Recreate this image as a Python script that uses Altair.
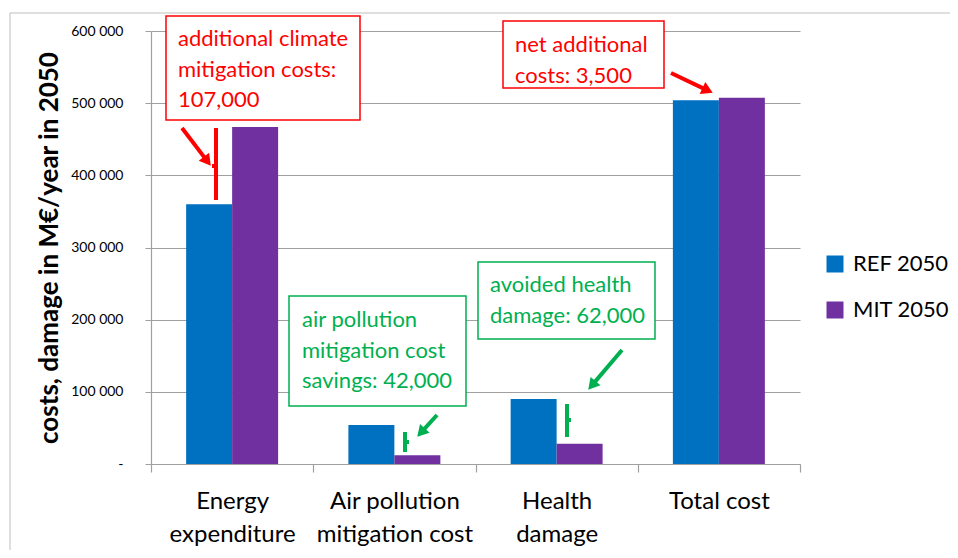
import math
import altair as alt
import pandas as pd

# ---------------- data ----------------
categories = ["Energy expenditure", "Air pollution mitigation cost", "Health damage", "Total cost"]
series_names = ["REF 2050", "MIT 2050"]
ref_values = [360000, 54000, 90000, 504000]
mit_values = [467000, 12000, 28000, 507500]
y_ticks = [0, 100000, 200000, 300000, 400000, 500000, 600000]

bar_colors = ["#0070c0", "#7030a0"]
RED = "#ff0000"
GREEN = "#00b050"
FONT = "Lato"

df = pd.DataFrame({
    "category": categories * 2,
    "series": [s for s in series_names for _ in categories],
    "value": ref_values + mit_values,
})

# ---------------- annotation layout (pixels inside the plot area) ----------------
notes = pd.DataFrame([
    dict(text="additional climate\nmitigation costs:\n107,000", color=RED, bx0=15, by0=-15, bx1=209, by1=89, tx=27, ty=15),
    dict(text="net additional\ncosts: 3,500", color=RED, bx0=352, by0=-10, bx1=513, by1=57, tx=364, ty=21),
    dict(text="air pollution\nmitigation cost\nsavings: 42,000", color=GREEN, bx0=138, by0=265, bx1=315, by1=375, tx=151, ty=296),
    dict(text="avoided health\ndamage: 62,000", color=GREEN, bx0=327, by0=231, bx1=504, by1=308, tx=339, ty=261),
])

brackets = pd.DataFrame([
    dict(x0=65, y0=97, x1=65, y1=169, color=RED),
    dict(x0=61, y0=135, x1=65, y1=135, color=RED),
    dict(x0=254, y0=401, x1=254, y1=421, color=GREEN),
    dict(x0=254, y0=411, x1=258, y1=411, color=GREEN),
    dict(x0=416, y0=373, x1=416, y1=406, color=GREEN),
    dict(x0=416, y0=389, x1=420, y1=389, color=GREEN),
])

arrow_specs = [
    (31, 97, 60, 135, RED),
    (520, 42, 562, 62, RED),
    (286, 384, 266, 406, GREEN),
    (471, 319, 437, 359, GREEN),
]
shafts, heads = [], []
for x0, y0, x1, y1, c in arrow_specs:
    L = math.hypot(x1 - x0, y1 - y0)
    ux, uy = (x1 - x0) / L, (y1 - y0) / L
    shafts.append(dict(x0=x0, y0=y0, x1=x1 - ux * 9, y1=y1 - uy * 9, color=c))
    heads.append(dict(x=x1 - ux * 6, y=y1 - uy * 6, angle=math.degrees(math.atan2(uy, ux)) % 360, color=c))
shafts = pd.DataFrame(shafts)
heads = pd.DataFrame(heads)

# ---------------- chart ----------------
frame = alt.Chart(pd.DataFrame({"a": [0]})).mark_rect(
    fillOpacity=0, stroke="#bfbfbf", strokeWidth=1
).encode(x=alt.value(-141), x2=alt.value(1000), y=alt.value(-18), y2=alt.value(700))

label_expr = (
    "datum.label == 'Energy expenditure' ? ['Energy', 'expenditure'] : "
    "datum.label == 'Air pollution mitigation cost' ? ['Air pollution', 'mitigation cost'] : "
    "datum.label == 'Health damage' ? ['Health', 'damage'] : datum.label"
)

bars = alt.Chart(df).mark_bar().encode(
    x=alt.X(
        "category:N", sort=categories, title=None,
        scale=alt.Scale(paddingInner=0, paddingOuter=0),
        axis=alt.Axis(
            labelExpr=label_expr, labelAngle=0, labelFont=FONT, labelFontSize=24,
            labelColor="#000000", labelLineHeight=33, labelPadding=17, labelBaseline="top",
            tickBand="extent", tickSize=8, tickColor="#a0a0a0", tickWidth=1.2,
            domainColor="#a0a0a0", domainWidth=1.2, grid=False,
        ),
    ),
    xOffset=alt.XOffset("series:N", sort=series_names,
                        scale=alt.Scale(paddingInner=0, paddingOuter=0.764)),
    y=alt.Y(
        "value:Q", scale=alt.Scale(domain=[0, 600000], nice=False),
        axis=alt.Axis(
            values=y_ticks,
            labelExpr="datum.value == 0 ? '-' : format(datum.value / 1000, 'd') + ' 000'",
            labelFont=FONT, labelFontSize=14, labelColor="#000000", labelPadding=22,
            tickSize=6, tickColor="#a0a0a0", domainColor="#a0a0a0", domainWidth=1.2,
            grid=True, gridColor="#a0a0a0", gridWidth=1.2,
            title="costs, damage in M€/year in 2050", titleFont=FONT, titleFontSize=26,
            titleFontWeight="bold", titleColor="#000000", titlePadding=8,
        ),
    ),
    color=alt.Color(
        "series:N", sort=series_names,
        scale=alt.Scale(domain=series_names, range=bar_colors),
        legend=alt.Legend(
            title=None, orient="none", legendX=673, legendY=222,
            symbolType="square", symbolSize=289, symbolStrokeWidth=0,
            labelFont=FONT, labelFontSize=22, labelColor="#000000",
            labelOffset=7, rowPadding=24,
        ),
    ),
)

boxes = alt.Chart(notes).mark_rect(fill="white", strokeWidth=1.5).encode(
    x=alt.X("bx0:Q", scale=None, axis=None), x2="bx1:Q",
    y=alt.Y("by0:Q", scale=None, axis=None), y2="by1:Q",
    stroke=alt.Stroke("color:N", scale=None),
)

texts = alt.Chart(notes).mark_text(
    align="left", baseline="alphabetic", lineBreak="\n", lineHeight=30.5,
    font=FONT, fontSize=22,
).encode(
    x=alt.X("tx:Q", scale=None, axis=None),
    y=alt.Y("ty:Q", scale=None, axis=None),
    text="text:N",
    color=alt.Color("color:N", scale=None),
)

bracket_layer = alt.Chart(brackets).mark_rule(strokeWidth=4, strokeCap="butt").encode(
    x=alt.X("x0:Q", scale=None, axis=None), x2="x1:Q",
    y=alt.Y("y0:Q", scale=None, axis=None), y2="y1:Q",
    color=alt.Color("color:N", scale=None),
)

shaft_layer = alt.Chart(shafts).mark_rule(strokeWidth=4).encode(
    x=alt.X("x0:Q", scale=None, axis=None), x2="x1:Q",
    y=alt.Y("y0:Q", scale=None, axis=None), y2="y1:Q",
    color=alt.Color("color:N", scale=None),
)

head_layer = alt.Chart(heads).mark_point(shape="triangle-right", filled=True, size=170, opacity=1).encode(
    x=alt.X("x:Q", scale=None, axis=None),
    y=alt.Y("y:Q", scale=None, axis=None),
    angle=alt.Angle("angle:Q", scale=None),
    color=alt.Color("color:N", scale=None),
)

chart = alt.layer(
    frame, bars, boxes, texts, bracket_layer, shaft_layer, head_layer
).properties(
    width=649, height=433,
    padding={"left": 143, "top": 23, "right": 150, "bottom": 86},
    autosize=alt.AutoSizeParams(type="none"),
    background="white",
).configure_view(stroke="transparent")

chart.save("out.html", embed_options={"renderer": "svg", "actions": False})
